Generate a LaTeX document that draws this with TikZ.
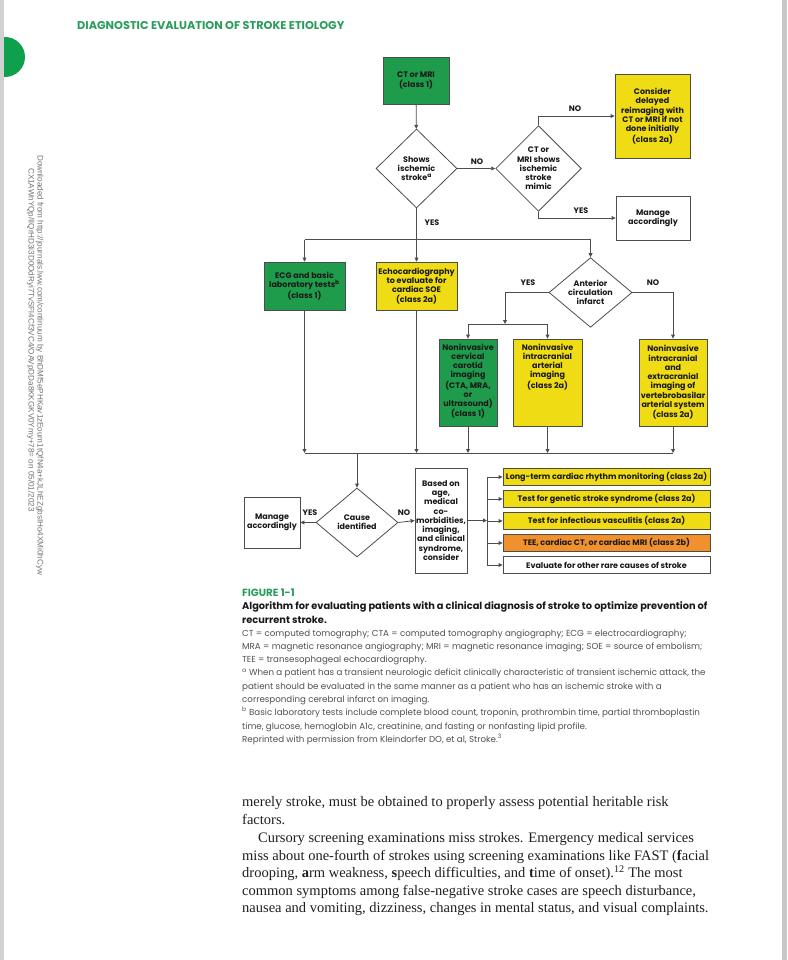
\documentclass[tikz,border=0pt]{standalone}
\usepackage{fontspec}
\newfontfamily\pop{Poppins}
\newfontfamily\ser{Liberation Serif}
\newfontfamily\wm{Liberation Sans}
\usetikzlibrary{shapes.geometric,arrows.meta}
\definecolor{gbox}{HTML}{1E9B4B}
\definecolor{ybox}{HTML}{F0DC14}
\definecolor{obox}{HTML}{F0912E}
\definecolor{hdr}{HTML}{2A9D5C}
\definecolor{circg}{HTML}{0EA04C}
\definecolor{edge}{HTML}{4D4D4D}
\definecolor{capgray}{HTML}{505050}
\newcommand\boxfont{\pop\bfseries\fontsize{8.0}{9.25}\selectfont}
\tikzset{
  box/.style={draw=edge, line width=0.8pt, align=center, inner xsep=0pt, inner ysep=1pt, text=black!90, font=\boxfont},
  gb/.style={box, fill=gbox},
  yb/.style={box, fill=ybox},
  ob/.style={box, fill=obox},
  wb/.style={box, fill=white},
  dia/.style={diamond, draw=edge, line width=0.8pt, align=center, inner sep=0pt, font=\boxfont, text=black!90, fill=white},
  conn/.style={draw=edge, line width=0.8pt},
  arr/.style={conn, -{Triangle[length=4pt,width=3.8pt]}},
  lab/.style={font=\boxfont, text=black!90},
  intext/.style={anchor=north, inner sep=0pt, align=center, font=\boxfont, text=black!90},
  capline/.style={anchor=base west, inner sep=0pt, text=capgray, font=\pop\fontsize{8.7}{10}\selectfont},
  bodyline/.style={anchor=base west, inner sep=0pt, text=black!88, font=\ser\fontsize{14.5}{17}\selectfont},
  wmline/.style={anchor=base west, inner sep=0pt, rotate=-90, text=black!55, font=\wm\fontsize{8.1}{9}\selectfont},
}
\begin{document}
\begin{tikzpicture}[x=1pt,y=-1pt]
\path[use as bounding box, fill=white] (0,0) rectangle (787,960);
\fill[black!18] (0,0) rectangle (4,960);
\fill[black!22] (782,0) rectangle (787,960);
\begin{scope}
\clip (4,0) rectangle (40,120);
\fill[circg] (5,57) circle (20);
\end{scope}
% header
\node[anchor=base west, inner sep=0pt, text=hdr, font=\pop\bfseries\fontsize{11.3}{13}\selectfont] (hdr) at (77,29.5) {DIAGNOSTIC EVALUATION OF STROKE ETIOLOGY};
% watermark
\node[wmline] (wm1) at (37.5,155) {Downloaded from http://journals.lww.com/continuum by BhDMf5ePHKav1zEoum1tQfN4a+kJLhEZgbsIHo4XMi0hCyw};
\node[wmline] (wm2) at (28.5,168) {CX1AWnYQp/IlQrHD3i3D0OdRyi7TvSFl4Cf3VC4/OAVpDDa8KKGKV0Ymy+78= on 05/01/2023};

% nodes
\node[gb, minimum width=66pt, minimum height=47pt] (ct) at (416,80.5) {CT or MRI\\(class 1)};
\node[dia, minimum width=81pt, minimum height=79pt] (d1) at (416.5,168.5) {Shows\\ischemic\\stroke\textsuperscript{a}};
\node[dia, minimum width=81pt, minimum height=79pt] (d2) at (538.5,168.5) {CT or\\MRI shows\\ischemic\\stroke\\mimic};
\node[yb, minimum width=75pt, minimum height=84pt] (delay) at (652.5,116) {Consider\\delayed\\reimaging with\\CT or MRI if not\\done initially\\(class 2a)};
\node[wb, minimum width=74pt, minimum height=44pt] (man1) at (653,218) {Manage\\accordingly};
\node[gb, minimum width=81pt, minimum height=48pt] (ecg) at (304.5,286) {ECG and basic\\laboratory tests\textsuperscript{b}\\(class 1)};
\node[yb, minimum width=81pt, minimum height=48pt] (echo) at (416.5,286) {Echocardiography\\to evaluate for\\cardiac SOE\\(class 2a)};
\node[dia, minimum width=83pt, minimum height=69pt] (d3) at (590.5,292.5) {Anterior\\circulation\\infarct};
\node[gb, minimum width=58pt, minimum height=87pt] (car) at (468,382.5) {};
\node[intext] (cart) at (468,343.5) {Noninvasive\\cervical\\carotid\\imaging\\(CTA, MRA,\\or\\ultrasound)\\(class 1)};
\node[yb, minimum width=69pt, minimum height=87pt] (intra) at (547.5,382.5) {};
\node[intext] (intrat) at (547.5,343.5) {Noninvasive\\intracranial\\arterial\\imaging\\(class 2a)};
\node[yb, minimum width=68pt, minimum height=87pt] (vert) at (673,382.5) {Noninvasive\\intracranial\\and\\extracranial\\imaging of\\vertebrobasilar\\arterial system\\(class 2a)};
\node[dia, minimum width=82pt, minimum height=69pt] (d4) at (357,522.5) {Cause\\identified};
\node[wb, minimum width=56pt, minimum height=51pt] (man2) at (272,522.5) {Manage\\accordingly};
\node[wb, minimum width=52pt, minimum height=105pt] (based) at (441,520.5) {Based on\\age,\\medical\\co-\\morbidities,\\imaging,\\and clinical\\syndrome,\\consider};
\node[yb, minimum width=207pt, minimum height=17pt] (r1) at (606.5,477) {Long-term cardiac rhythm monitoring (class 2a)};
\node[yb, minimum width=207pt, minimum height=17pt] (r2) at (606.5,499) {Test for genetic stroke syndrome (class 2a)};
\node[yb, minimum width=207pt, minimum height=17pt] (r3) at (606.5,521) {Test for infectious vasculitis (class 2a)};
\node[ob, minimum width=207pt, minimum height=17pt] (r4) at (606.5,543) {TEE, cardiac CT, or cardiac MRI (class 2b)};
\node[wb, minimum width=207pt, minimum height=17pt] (r5) at (606.5,565) {Evaluate for other rare causes of stroke};

% coordinates
\coordinate (top) at (416.5,239.5);
\coordinate (split) at (505,324);
\coordinate (bot) at (357,453);
\coordinate (vr) at (487,520.5);
\coordinate (vtop) at (487,477);
\coordinate (vbot) at (487,565);

% connectors
\draw[arr] (ct) -- (d1);
\draw[arr] (d1) -- (d2);
\draw[arr] (d2.north) |- (delay.west);
\draw[arr] (d2.south) |- (man1.west);
\draw[conn] (d1.south) -- (top);
\draw[conn] (ecg.north |- top) -- (d3.north |- top);
\draw[arr] (ecg.north |- top) -- (ecg.north);
\draw[arr] (top) -- (echo.north);
\draw[arr] (d3.north |- top) -- (d3.north);
\draw[arr] (d3.west) -| (split);
\draw[conn] (car.north |- split) -- (intra.north |- split);
\draw[arr] (car.north |- split) -- (car.north);
\draw[arr] (intra.north |- split) -- (intra.north);
\draw[arr] (d3.east) -| (vert.north);
\draw[conn] (ecg.south |- bot) -- (vert.south |- bot);
\draw[arr] (ecg.south) -- (ecg.south |- bot);
\draw[arr] (echo.south) -- (echo.south |- bot);
\draw[arr] (car.south) -- (car.south |- bot);
\draw[arr] (intra.south) -- (intra.south |- bot);
\draw[arr] (vert.south) -- (vert.south |- bot);
\draw[arr] (bot) -- (d4.north);
\draw[arr] (d4.west) -- (man2.east);
\draw[arr] (d4.east) -- (based.west);
\draw[arr] (based.east |- vr) -- (vr);
\draw[conn] (vtop) -- (vbot);
\draw[arr] (vtop) -- (r1.west);
\draw[arr] (vtop |- r2.west) -- (r2.west);
\draw[arr] (vtop |- r3.west) -- (r3.west);
\draw[arr] (vtop |- r4.west) -- (r4.west);
\draw[arr] (vbot) -- (r5.west);

% labels
\node[lab] (l1) at (477,162) {NO};
\node[lab] (l2) at (575,109) {NO};
\node[lab] (l3) at (581,211) {YES};
\node[lab] (l4) at (432,223) {YES};
\node[lab] (l5) at (528,283) {YES};
\node[lab] (l6) at (653,283) {NO};
\node[lab] (l7) at (310,513) {YES};
\node[lab] (l8) at (404,513) {NO};

% caption
\node[anchor=base west, inner sep=0pt, text=hdr, font=\pop\bfseries\fontsize{10.4}{12}\selectfont] (fig) at (242,596) {FIGURE 1-1};
\node[anchor=base west, inner sep=0pt, text=black!90, font=\pop\bfseries\fontsize{9.8}{11}\selectfont] (t1) at (242,609.5) {Algorithm for evaluating patients with a clinical diagnosis of stroke to optimize prevention of};
\node[anchor=base west, inner sep=0pt, text=black!90, font=\pop\bfseries\fontsize{9.8}{11}\selectfont] (t2) at (242,623.5) {recurrent stroke.};
\node[capline] (c1) at (242,636) {CT = computed tomography; CTA = computed tomography angiography; ECG = electrocardiography;};
\node[capline] (c2) at (242,649.3) {MRA = magnetic resonance angiography; MRI = magnetic resonance imaging; SOE = source of embolism;};
\node[capline] (c3) at (242,662.6) {TEE = transesophageal echocardiography.};
\node[capline] (c4) at (242,675.9) {\textsuperscript{a} When a patient has a transient neurologic deficit clinically characteristic of transient ischemic attack, the};
\node[capline] (c5) at (242,689.2) {patient should be evaluated in the same manner as a patient who has an ischemic stroke with a};
\node[capline] (c6) at (242,702.5) {corresponding cerebral infarct on imaging.};
\node[capline] (c7) at (242,715.8) {\textsuperscript{b} Basic laboratory tests include complete blood count, troponin, prothrombin time, partial thromboplastin};
\node[capline] (c8) at (242,729.1) {time, glucose, hemoglobin A1c, creatinine, and fasting or nonfasting lipid profile.};
\node[capline] (c9) at (242,742.4) {Reprinted with permission from Kleindorfer DO, et al, Stroke.\textsuperscript{3}};

% body text
\node[bodyline] (b1) at (242,806) {merely stroke, must be obtained to properly assess potential heritable risk};
\node[bodyline] (b2) at (242,824) {factors.};
\node[bodyline] (b3) at (258,842) {Cursory screening examinations miss strokes. Emergency medical services};
\node[bodyline] (b4) at (242,860) {miss about one-fourth of strokes using screening examinations like FAST (\textbf{f}acial};
\node[bodyline] (b5) at (242,877.5) {drooping, \textbf{a}rm weakness, \textbf{s}peech difficulties, and \textbf{t}ime of onset).\textsuperscript{12} The most};
\node[bodyline] (b6) at (242,895) {common symptoms among false-negative stroke cases are speech disturbance,};
\node[bodyline] (b7) at (242,912.5) {nausea and vomiting, dizziness, changes in mental status, and visual complaints.};
\end{tikzpicture}
\end{document}
